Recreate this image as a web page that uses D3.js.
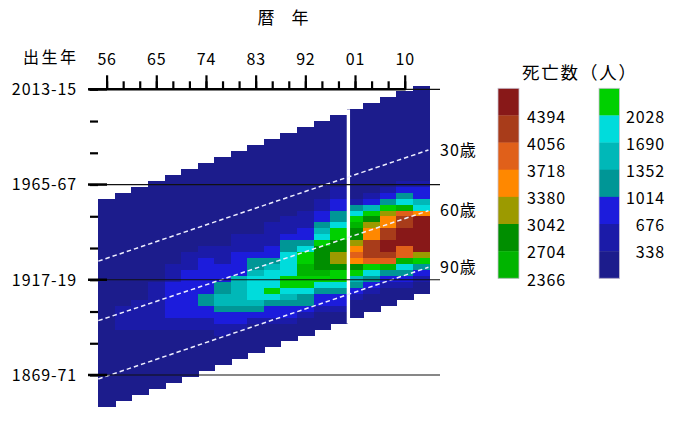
<!DOCTYPE html>
<html><head><meta charset="utf-8">
<script src="https://cdn.jsdelivr.net/npm/d3@7"></script>
<style>body{margin:0;background:#fff}svg{display:block}text{font-family:'Noto Sans CJK JP',sans-serif;fill:#000}</style>
</head><body>
<svg id="chart" width="680" height="421"></svg>
<script>
// ---------------- DATA ----------------
const periodMid = [1956,1959,1962,1965,1968,1971,1974,1977,1980,1983,1986,1989,1992,1995,1998,2001,2004,2007,2010,2013];
const ageStart = [0,3,6,9,12,15,18,21,24,27,30,33,36,39,42,45,48,51,54,57,60,63,66,69,72,75,78,81,84,87,90,93,96,99,102];
// deaths[period][ageGroup]
const deaths = [
 [30,4,6,10,14,18,24,34,48,66,88,112,140,168,196,222,246,268,286,300,310,316,318,312,296,272,240,200,156,110,68,36,16,6,2],
 [28,4,6,10,14,18,24,34,50,70,94,122,152,184,214,244,270,294,318,352,376,388,364,330,304,270,232,188,142,98,60,32,14,5,2],
 [26,4,6,10,14,18,26,36,52,74,100,130,164,198,232,262,290,312,330,372,408,426,412,374,326,290,250,204,156,108,66,34,15,5,2],
 [24,4,6,10,14,20,28,38,56,80,108,142,180,220,260,296,326,352,390,432,470,494,488,452,396,330,280,226,172,120,74,38,16,6,2],
 [22,4,6,10,14,20,28,40,58,84,116,154,198,244,290,346,420,560,700,780,840,860,820,730,620,470,330,262,198,138,86,44,18,6,2],
 [20,4,6,10,14,20,30,42,62,90,124,166,214,268,350,440,580,720,800,880,940,960,930,860,760,640,480,320,236,166,102,52,22,7,2],
 [18,4,6,10,14,22,32,46,68,98,136,184,238,300,380,520,700,780,850,910,960,1000,1060,1080,990,860,650,420,300,200,122,62,26,8,2],
 [16,4,6,10,14,22,32,48,72,104,146,198,256,318,336,420,540,640,760,880,990,1100,1280,1420,1400,1240,980,760,560,380,240,124,52,16,4],
 [15,4,6,10,16,24,36,52,78,112,156,212,274,330,400,480,600,720,830,920,1000,1380,1480,1560,1540,1420,1200,920,720,480,270,140,58,18,4],
 [14,4,6,10,16,24,36,54,82,118,164,224,290,320,336,420,520,640,800,1100,1300,1500,1760,1860,1880,1740,1560,1200,860,540,300,150,62,20,5],
 [13,4,6,10,16,26,38,56,86,124,172,236,300,330,380,460,560,660,760,900,1200,1560,1800,1900,1980,2100,1900,1300,960,760,460,200,80,24,6],
 [12,4,6,10,16,26,40,60,90,130,182,250,310,334,400,500,620,780,1080,1300,1720,1860,1960,2000,2150,2200,1900,1600,1200,900,720,400,170,50,10],
 [11,4,6,10,16,26,40,62,94,136,190,260,316,336,420,520,640,760,920,1250,1850,2150,2300,2450,2500,2300,2150,1850,1300,1100,820,460,200,60,12],
 [10,4,6,10,16,26,42,64,98,142,198,270,320,360,480,700,880,1150,1500,1900,2250,2800,2900,2950,2850,2550,2200,1850,1250,950,720,480,220,66,14],
 [9,4,6,10,16,28,44,66,102,148,206,280,350,440,720,880,1100,1300,1850,2200,2300,2850,3000,3200,3150,2900,2300,2100,1800,1200,900,700,420,150,30],
 [8,4,6,10,16,28,44,68,104,150,210,286,318,330,336,600,1200,1900,2250,2550,2850,2950,3250,3600,3850,3500,2800,2250,1550,1150,850,460,200,60,14],
 [7,4,6,10,16,28,46,70,108,156,218,296,320,330,336,560,950,1550,2250,2900,3250,3550,3650,4150,4300,4200,3900,2300,1850,1200,880,480,210,64,15],
 [6,4,6,10,16,28,46,72,112,162,226,306,322,330,336,560,800,1250,2200,3200,3550,3700,4200,4350,4500,4550,4250,3900,2600,1250,900,500,220,68,16],
 [5,4,6,10,16,28,48,74,114,166,232,300,318,326,334,540,850,1300,1900,2600,3900,4250,4350,4700,4800,4650,4000,3850,2550,1800,1250,850,480,150,30],
 [4,4,6,10,16,30,48,76,118,170,238,300,316,324,330,336,520,800,950,1450,1950,3600,4600,4900,5100,5150,4950,4600,3250,2300,1200,850,500,170,36]
];
const legendBreaks = [338,676,1014,1352,1690,2028,2366,2704,3042,3380,3718,4056,4394];
const legendColors = ["#1c1c8c","#1b1ba8","#1c1cdc","#009696","#00b8b8","#00dcdc","#00d000","#00b400","#008e00","#9c9a00","#ff8800","#e0601a","#a83c1a","#881818"];
const minorTickYears = [1956,1959,1962,1965,1968,1971,1974,1977,1980,1983,1986,1989,1992,1995,1998,2001,2004,2007,2010];
const xTickYears = [1956,1965,1974,1983,1992,2001,2010];
const xTickLabels = ["56","65","74","83","92","01","10"];
const cohortMinor = [2014,1998,1982,1966,1950,1934,1918,1902,1886,1870];
const cohortTicks = [2014,1966,1918,1870];
const cohortLabels = ["2013-15","1965-67","1917-19","1869-71"];
const ageLineLabels = ["30歳","60歳","90歳"];
const ageLineYears = [1954.5,2014.3];
// birth cohort crossed by each age line at the first and last year
const ageLineBirths = [[1927.4,1983.4],[1897.4,1952.8],[1868.0,1924.3]];
const breakPeriodIndex = 15;

// ---------------- CHART ----------------
const svg = d3.select("#chart");
svg.append("rect").attr("width",680).attr("height",421).attr("fill","#fff");
const x = d3.scaleLinear().domain([1956,2010]).range([106.6,404.7]);
const y = d3.scaleLinear().domain([1870,2014]).range([375,89.3]);
const color = d3.scaleThreshold().domain(legendBreaks).range(legendColors);
const TOP = 2.9;

const cells = [];
periodMid.forEach((p,k)=>ageStart.forEach((a,j)=>cells.push({p,a,v:deaths[k][j],last:j===ageStart.length-1})));
svg.append("g").attr("shape-rendering","crispEdges").selectAll("rect").data(cells).join("rect")
  .attr("x",d=>x(d.p-1.5))
  .attr("width",d=>x(d.p+1.5)-x(d.p-1.5)+(d.p===2013?0:1))
  .attr("y",d=>y(d.p+TOP-d.a))
  .attr("height",d=>y(d.p+TOP-d.a-3)-y(d.p+TOP-d.a)+(d.last?0:1))
  .attr("fill",d=>color(d.v));

// white break line
const pb = periodMid[breakPeriodIndex], pa = periodMid[breakPeriodIndex-1];
svg.append("rect").attr("x",x(pb-1.5)).attr("width",3.3)
  .attr("y",y(pb+TOP)).attr("height",y(pa+TOP-105)-y(pb+TOP)).attr("fill","#fff");

// age lines
const ag = svg.append("g");
ageLineBirths.forEach((b,i)=>{
  ag.append("line").attr("x1",x(ageLineYears[0])).attr("x2",x(ageLineYears[1]))
    .attr("y1",y(b[0])).attr("y2",y(b[1]))
    .attr("stroke","#eeeeff").attr("stroke-width",1.5).attr("stroke-dasharray","4.5,3");
  ag.append("text").attr("x",440).attr("y",y(b[1])).attr("dy","0.36em")
    .attr("font-size",16).attr("letter-spacing",1).text(ageLineLabels[i]);
});

// cohort gridlines and ticks
const gl = svg.append("g");
cohortTicks.forEach((c,i)=>{
  gl.append("line").attr("x1",89).attr("x2",440).attr("y1",y(c)).attr("y2",y(c)).attr("stroke","#111").attr("stroke-width",1.2);
  gl.append("line").attr("x1",88).attr("x2",107).attr("y1",y(c)).attr("y2",y(c)).attr("stroke","#000").attr("stroke-width",2.5);
  gl.append("text").attr("x",77).attr("y",y(c)).attr("dy","0.36em").attr("text-anchor","end")
    .attr("font-size",16).attr("letter-spacing",0.9).text(cohortLabels[i]);
});
const yAx = svg.append("g").attr("transform","translate(98,0)")
  .call(d3.axisLeft(y).tickValues(cohortMinor).tickSize(8).tickFormat(""));
yAx.select(".domain").remove();
yAx.selectAll("line").attr("stroke","#000").attr("stroke-width",2.2);

// top axis
svg.append("line").attr("x1",89).attr("x2",x(2010)+1).attr("y1",89.3).attr("y2",89.3).attr("stroke","#000").attr("stroke-width",2.6);
const xMin = svg.append("g").attr("transform","translate(0,89.3)")
  .call(d3.axisTop(x).tickValues(minorTickYears).tickSize(8).tickFormat(""));
xMin.select(".domain").remove();
xMin.selectAll("line").attr("stroke","#000").attr("stroke-width",2.2);
const xMaj = svg.append("g").attr("transform","translate(0,89.3)")
  .call(d3.axisTop(x).tickValues(xTickYears).tickSize(14).tickPadding(10.5).tickFormat((d,i)=>xTickLabels[i]));
xMaj.select(".domain").remove();
xMaj.selectAll("line").attr("stroke","#000").attr("stroke-width",2.2);
xMaj.selectAll("text").attr("font-size",16).attr("font-family","'Noto Sans CJK JP',sans-serif").attr("letter-spacing",0.8).attr("fill","#000");

svg.append("text").attr("x",283).attr("y",24).attr("text-anchor","middle").attr("font-size",17).text("暦　年");
svg.append("text").attr("x",23).attr("y",63).attr("font-size",16).attr("letter-spacing",2.5).text("出生年");

// legend
svg.append("text").attr("x",522).attr("y",78.5).attr("font-size",17.5).attr("letter-spacing",1.8).text("死亡数（人）");
const L0 = 88.3, LH = 27.14;
const leftIdx = [13,12,11,10,9,8,7], rightIdx = [6,5,4,3,2,1,0];
const lg = svg.append("g");
leftIdx.forEach((ci,r)=>lg.append("rect").attr("x",498).attr("y",L0+r*LH).attr("width",21).attr("height",LH+0.3).attr("fill",legendColors[ci]));
rightIdx.forEach((ci,r)=>lg.append("rect").attr("x",599).attr("y",L0+r*LH).attr("width",20.5).attr("height",LH+0.3).attr("fill",legendColors[ci]));
lg.append("rect").attr("x",498).attr("y",L0).attr("width",21).attr("height",7*LH).attr("fill","none").attr("stroke","#c8c0d0").attr("stroke-width",0.8);
lg.append("rect").attr("x",599).attr("y",L0).attr("width",20.5).attr("height",7*LH).attr("fill","none").attr("stroke","#c8c0d0").attr("stroke-width",0.8);
leftIdx.forEach((ci,r)=>lg.append("text").attr("x",566).attr("y",L0+(r+1)*LH+1.5).attr("dy","0.36em").attr("text-anchor","end").attr("font-size",16).attr("letter-spacing",0.9).text(legendBreaks[ci-1]));
rightIdx.slice(0,6).forEach((ci,r)=>lg.append("text").attr("x",665).attr("y",L0+(r+1)*LH+1.5).attr("dy","0.36em").attr("text-anchor","end").attr("font-size",16).attr("letter-spacing",0.9).text(legendBreaks[ci-1]));
</script>
</body></html>
